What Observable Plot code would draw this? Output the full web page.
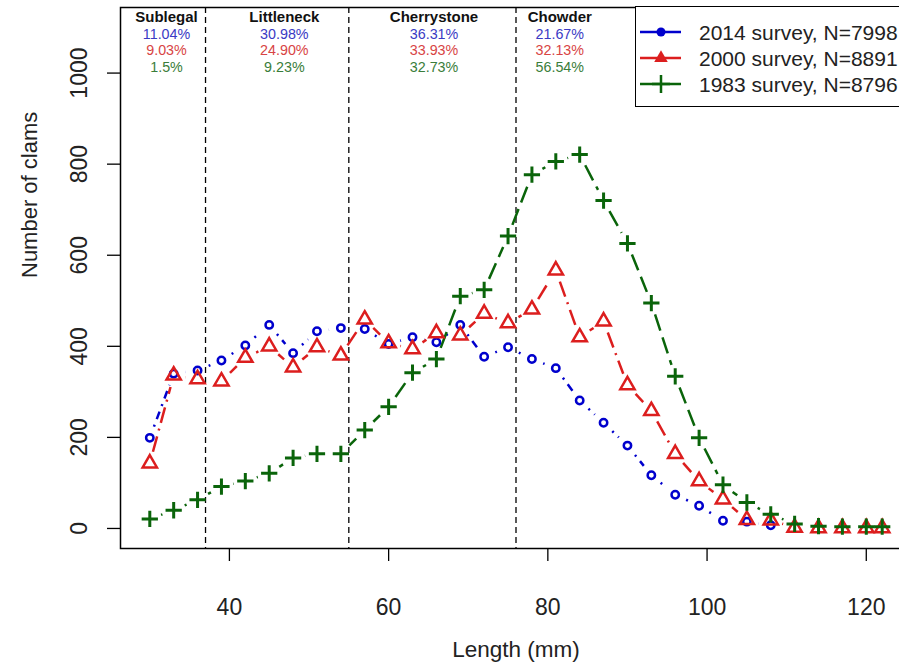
<!DOCTYPE html>
<html><head><meta charset="utf-8">
<script src="https://cdn.jsdelivr.net/npm/d3@7"></script>
<script src="https://cdn.jsdelivr.net/npm/@observablehq/plot@0.6"></script>
<style>
body{margin:0;background:#fff;}
#wrap{position:relative;width:899px;height:666px;overflow:hidden;font-family:"Liberation Sans",Arial,sans-serif;background:#fff;}
#wrap > svg{max-width:none !important;}
#legend{position:absolute;left:635px;top:6px;width:300px;height:101px;box-sizing:border-box;border:1.5px solid #000;background:#fff;}
</style></head><body><div id="wrap"></div>
<script>
// ---- data ----
const lengths = [30,33,36,39,42,45,48,51,54,57,60,63,66,69,72,75,78,81,84,87,90,93,96,99,102,105,108,111,114,117,120,122];
const n2014 = [199,340,347,369,402,447,385,433,440,438,405,420,409,447,377,398,372,352,281,232,182,117,74,50,17,15,7];
const n2000 = [143,336,328,323,375,400,354,398,380,459,407,394,429,424,472,451,481,567,420,455,315,258,164,104,64,19,18,2,1,1,1,1];
const n1983 = [21,40,63,92,104,121,155,164,164,216,267,342,372,510,524,642,777,806,821,720,626,495,334,199,96,57,31,10,5,4,4,4];
const classNames = ["Sublegal","Littleneck","Cherrystone","Chowder"];
const classCuts = [37,55,76];
const pct2014 = ["11.04%","30.98%","36.31%","21.67%"];
const pct2000 = ["9.03%","24.90%","33.93%","32.13%"];
const pct1983 = ["1.5%","9.23%","32.73%","56.54%"];
const seriesNames = ["2014 survey, N=7998","2000 survey, N=8891","1983 survey, N=8796"];
const xTicks = [40,60,80,100,120];
const yTicks = [0,200,400,600,800,1000];

// ---- layout / style ----
const W = 912, H = 666, ML = 120, MR = 1, MT = 7, MB = 118;
const xDomain = [26.32, 125.68], yDomain = [-44, 1144];
const classLabelX = [32.1, 46.9, 65.7, 81.5];
const BLUE = "#0000cd", RED = "#dc1e1e", GREEN = "#0a640a";
const FONT = "Liberation Sans, Arial, sans-serif";

const xs = d3.scaleLinear(xDomain, [ML, W - MR]);
const ys = d3.scaleLinear(yDomain, [H - MB, MT]);
// type="b": segments between consecutive points, with a gap around each point
function segs(vals, gap) {
  const out = [];
  for (let i = 0; i < vals.length - 1; i++) {
    const px1 = xs(lengths[i]), py1 = ys(vals[i]), px2 = xs(lengths[i+1]), py2 = ys(vals[i+1]);
    const dx = px2 - px1, dy = py2 - py1, L = Math.hypot(dx, dy);
    if (L <= 2 * gap) continue;
    const ux = dx / L, uy = dy / L;
    out.push({x1: xs.invert(px1 + ux*gap), y1: ys.invert(py1 + uy*gap),
              x2: xs.invert(px2 - ux*gap), y2: ys.invert(py2 - uy*gap)});
  }
  return out;
}
const pts = vals => vals.map((v, i) => ({x: lengths[i], y: v}));
const labels = classNames.map((name, i) => ({name, x: classLabelX[i], p14: pct2014[i], p00: pct2000[i], p83: pct1983[i]}));

const chart = Plot.plot({
  width: W, height: H, marginLeft: ML, marginRight: MR, marginTop: MT, marginBottom: MB,
  style: {fontFamily: FONT, background: "white", overflow: "visible", maxWidth: "none"},
  x: {domain: xDomain},
  y: {domain: yDomain},
  marks: [
    Plot.ruleX(classCuts, {stroke: "black", strokeWidth: 1.3, strokeDasharray: "6,4"}),
    Plot.link(segs(n2014, 12), {x1: "x1", y1: "y1", x2: "x2", y2: "y2", stroke: BLUE, strokeWidth: 2.5, strokeDasharray: "2,6,8,6"}),
    Plot.link(segs(n2000, 12), {x1: "x1", y1: "y1", x2: "x2", y2: "y2", stroke: RED, strokeWidth: 2.5, strokeDasharray: "16,6,2,6"}),
    Plot.link(segs(n1983, 12), {x1: "x1", y1: "y1", x2: "x2", y2: "y2", stroke: GREEN, strokeWidth: 2.5, strokeDasharray: "17,7"}),
    Plot.dot(pts(n2014), {x: "x", y: "y", r: 3.7, stroke: BLUE, strokeWidth: 2.5, fill: "none"}),
    Plot.dot(pts(n2000), {x: "x", y: "y", r: 5.3, symbol: "triangle", stroke: RED, strokeWidth: 2.5, fill: "none"}),
    Plot.dot(pts(n1983), {x: "x", y: "y", r: 5.3, symbol: "plus", stroke: GREEN, strokeWidth: 3}),
    Plot.text(labels, {x: "x", text: "name", frameAnchor: "top", dy: 9.5, lineAnchor: "middle", fontWeight: "bold", fontSize: 15, fill: "#111"}),
    Plot.text(labels, {x: "x", text: "p14", frameAnchor: "top", dy: 26.6, lineAnchor: "middle", fontSize: 14.3, fill: "#3a3ac4"}),
    Plot.text(labels, {x: "x", text: "p00", frameAnchor: "top", dy: 43.2, lineAnchor: "middle", fontSize: 14.3, fill: "#d84444"}),
    Plot.text(labels, {x: "x", text: "p83", frameAnchor: "top", dy: 59.8, lineAnchor: "middle", fontSize: 14.3, fill: "#3a7d3a"}),
    Plot.axisX(xTicks, {tickSize: 13, tickPadding: 37, fontSize: 23, label: null, strokeWidth: 1.3, fill: "#222"}),
    Plot.axisY(yTicks, {tickSize: 13, tickPadding: 21, tickRotate: -90, fontSize: 23, label: null, strokeWidth: 1.3, fill: "#222", tickFormat: d => String(d)}),
    Plot.text(["Number of clams"], {frameAnchor: "left", dx: -91, rotate: -90, fontSize: 22, lineAnchor: "middle", fill: "#222"}),
    Plot.text(["Length (mm)"], {frameAnchor: "bottom", dy: 101, fontSize: 22.5, lineAnchor: "middle", fill: "#222"}),
    Plot.frame({stroke: "black", strokeWidth: 1.5})
  ]
});
const wrap = document.getElementById("wrap");
wrap.appendChild(chart);

// ---- legend ----
const lg = d3.select(wrap).append("div").attr("id", "legend");
const ls = lg.append("svg").attr("width", 300).attr("height", 98).style("display", "block");
const cols = [BLUE, RED, GREEN];
seriesNames.forEach((name, i) => {
  const cy = 25 + i * 26;
  const g = ls.append("g");
  g.append("line").attr("x1", 4).attr("x2", 45).attr("y1", cy).attr("y2", cy).attr("stroke", cols[i]).attr("stroke-width", 2.5);
  if (i === 0) g.append("circle").attr("cx", 25).attr("cy", cy).attr("r", 4.5).attr("fill", BLUE);
  if (i === 1) g.append("path").attr("d", d3.symbol(d3.symbolTriangle, 80)()).attr("transform", `translate(25,${cy})`).attr("fill", RED);
  if (i === 2) g.append("path").attr("d", "M-9,0H9M0,-9V9").attr("transform", `translate(25,${cy})`).attr("stroke", GREEN).attr("stroke-width", 2.5);
  g.append("text").attr("x", 63).attr("y", cy + 7.5).attr("font-size", 21).attr("font-family", FONT).attr("fill", "#222").text(name);
});
</script>
</body></html>
